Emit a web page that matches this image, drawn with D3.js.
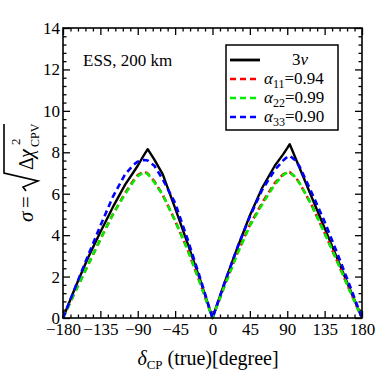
<!DOCTYPE html>
<html>
<head>
<meta charset="utf-8">
<script src="https://cdn.jsdelivr.net/npm/d3@7"></script>
<style>
  body { margin: 0; background: #fff; }
  text { font-family: "Liberation Serif", "DejaVu Serif", serif; fill: #000; }
</style>
</head>
<body>
<svg id="chart" width="376" height="376"></svg>
<script>
// delta_CP (true) grid, degrees
var deltaCP = [-180, -165, -150, -135, -120, -105, -95, -90, -85, -82, -78, -70, -60, -45, -30, -15,
  0, 15, 30, 45, 60, 75, 85, 90, 93, 100, 105, 120, 135, 150, 165, 180];

// sigma values
var sigma3nu = [0, 1.5, 2.9, 4.15, 5.35, 6.45, 7.05, 7.35, 7.7, 7.9, 8.15, 7.65, 6.95, 5.3, 3.6, 1.85,
  0, 1.75, 3.4, 4.95, 6.3, 7.35, 7.9, 8.2, 8.39, 7.71, 7.23, 5.78, 4.34, 2.89, 1.44, 0];
var sigmaA11 = [0, 1.3, 2.55, 3.8, 5.0, 6.05, 6.65, 6.9, 7.02, 7.07, 6.97, 6.6, 5.95, 4.7, 3.3, 1.7,
  0, 1.62, 3.15, 4.5, 5.58, 6.52, 6.93, 7.03, 7.04, 6.8, 6.5, 5.4, 4.1, 2.75, 1.35, 0];
var sigmaA22 = [0, 1.3, 2.55, 3.8, 5.0, 6.0, 6.6, 6.85, 6.98, 7.05, 6.95, 6.55, 5.95, 4.7, 3.3, 1.7,
  0, 1.6, 3.1, 4.45, 5.5, 6.45, 6.9, 7.02, 7.04, 6.8, 6.5, 5.4, 4.1, 2.75, 1.35, 0];
var sigmaA33 = [0, 1.5, 3.0, 4.45, 5.85, 6.95, 7.4, 7.55, 7.62, 7.63, 7.6, 7.35, 6.7, 5.55, 3.8, 1.95,
  0, 1.75, 3.4, 4.9, 6.2, 7.15, 7.6, 7.78, 7.83, 7.6, 7.3, 6.0, 4.65, 3.15, 1.6, 0];

var xTicks = [-180, -135, -90, -45, 0, 45, 90, 135, 180];
var yTicks = [0, 2, 4, 6, 8, 10, 12, 14];

var series = [
  { name: "3nu", values: sigma3nu, color: "#000000", dash: null },
  { name: "a11", label: ["11", "=0.94"], values: sigmaA11, color: "#ff0000", dash: "6,4" },
  { name: "a22", label: ["22", "=0.99"], values: sigmaA22, color: "#00ee00", dash: "6,4" },
  { name: "a33", label: ["33", "=0.90"], values: sigmaA33, color: "#0000ff", dash: "6,4" }
];

var svg = d3.select("#chart");
var pLeft = 63, pRight = 362, pTop = 28, pBottom = 318;

var x = d3.scaleLinear().domain([-180, 180]).range([pLeft, pRight]);
var y = d3.scaleLinear().domain([0, 14]).range([pBottom, pTop]);

var minorX = d3.range(-180, 181, 9).filter(function (d) { return d % 45 !== 0; });
var minorY = d3.range(0, 14.01, 0.4).filter(function (d) { return Math.abs(d / 2 - Math.round(d / 2)) > 0.01; });

function axisGroup(axis, tx, ty) {
  var g = svg.append("g").attr("transform", "translate(" + tx + "," + ty + ")").call(axis);
  g.select(".domain").remove();
  g.selectAll(".tick line").attr("stroke", "#000").attr("stroke-width", 1.3);
  return g;
}

// bottom + left with labels
var gx = axisGroup(d3.axisBottom(x).tickValues(xTicks).tickSize(-7).tickPadding(5), 0, pBottom);
gx.attr("font-family", null).attr("font-size", null);
gx.selectAll("text").style("font-size", "17px");
var gy = axisGroup(d3.axisLeft(y).tickValues(yTicks).tickSize(-7).tickPadding(3)
  .tickFormat(d3.format("d")), pLeft, 0);
gy.attr("font-family", null).attr("font-size", null);
gy.selectAll("text").style("font-size", "17px");

// minor ticks and the top/right sides
axisGroup(d3.axisBottom(x).tickValues(minorX).tickSize(-3.5).tickFormat(""), 0, pBottom);
axisGroup(d3.axisLeft(y).tickValues(minorY).tickSize(-3.5).tickFormat(""), pLeft, 0);
axisGroup(d3.axisTop(x).tickValues(xTicks).tickSize(-7).tickFormat(""), 0, pTop);
axisGroup(d3.axisTop(x).tickValues(minorX).tickSize(-3.5).tickFormat(""), 0, pTop);
axisGroup(d3.axisRight(y).tickValues(yTicks).tickSize(-7).tickFormat(""), pRight, 0);
axisGroup(d3.axisRight(y).tickValues(minorY).tickSize(-3.5).tickFormat(""), pRight, 0);

// curves
var line = d3.line()
  .x(function (d) { return x(d[0]); })
  .y(function (d) { return y(d[1]); });

series.forEach(function (s) {
  svg.append("path")
    .datum(deltaCP.map(function (d, i) { return [d, s.values[i]]; }))
    .attr("d", line)
    .attr("fill", "none")
    .attr("stroke", s.color)
    .attr("stroke-width", s.dash ? 2.6 : 2.4)
    .attr("stroke-dasharray", s.dash)
    .attr("stroke-linejoin", "round");
});

// frame
svg.append("rect")
  .attr("x", pLeft).attr("y", pTop)
  .attr("width", pRight - pLeft).attr("height", pBottom - pTop)
  .attr("fill", "none").attr("stroke", "#000").attr("stroke-width", 1.6);

// experiment label
svg.append("text").attr("x", 83).attr("y", 66).style("font-size", "17px").text("ESS, 200 km");

// legend
var lg = svg.append("g");
lg.append("rect").attr("x", 226).attr("y", 45).attr("width", 112).attr("height", 85)
  .attr("fill", "#fff").attr("stroke", "#000").attr("stroke-width", 1.5);
series.forEach(function (s, i) {
  var ly = 60 + i * 19;
  lg.append("line").attr("x1", 230).attr("x2", 260).attr("y1", ly).attr("y2", ly)
    .attr("stroke", s.color).attr("stroke-width", s.dash ? 2.6 : 2.8)
    .attr("stroke-dasharray", s.dash ? "6,4" : null);
  var t = lg.append("text").attr("y", ly + 5).style("font-size", "17px");
  if (!s.label) {
    t.attr("x", 300).attr("text-anchor", "middle");
    t.append("tspan").text("3");
    t.append("tspan").style("font-style", "italic").text("ν");
  } else {
    t.attr("x", 264);
    t.append("tspan").style("font-style", "italic").text("α");
    t.append("tspan").attr("dy", 4).style("font-size", "12px").text(s.label[0]);
    t.append("tspan").attr("dy", -4).text(s.label[1]);
  }
});

// x axis title
var xt = svg.append("text").attr("x", 208).attr("y", 365).attr("text-anchor", "middle")
  .style("font-size", "20px");
xt.append("tspan").style("font-style", "italic").text("δ");
xt.append("tspan").attr("dy", 4).style("font-size", "13px").text("CP");
xt.append("tspan").attr("dy", -4).text(" (true)[degree]");

// y axis title: sigma = sqrt(Delta chi^2_CPV)
var yl = svg.append("g").attr("transform", "translate(33,222) rotate(-90)");
yl.append("text").attr("x", 0).attr("y", 0).style("font-size", "21px").style("font-style", "italic").text("σ");
yl.append("text").attr("x", 14).attr("y", 0).style("font-size", "21px").text("=");
yl.append("path")
  .attr("d", "M31,-7 L35,-10 L41,5 L49,-29 L98,-29")
  .attr("fill", "none").attr("stroke", "#000").attr("stroke-width", 1.6).attr("stroke-linejoin", "miter");
yl.append("text").attr("x", 52).attr("y", 0).style("font-size", "20px").text("Δ");
yl.append("text").attr("x", 64).attr("y", 0).style("font-size", "20px").style("font-style", "italic").text("χ");
yl.append("text").attr("x", 77).attr("y", -13).style("font-size", "13px").text("2");
yl.append("text").attr("x", 75).attr("y", 6).style("font-size", "12px").text("CPV");
</script>
</body>
</html>
